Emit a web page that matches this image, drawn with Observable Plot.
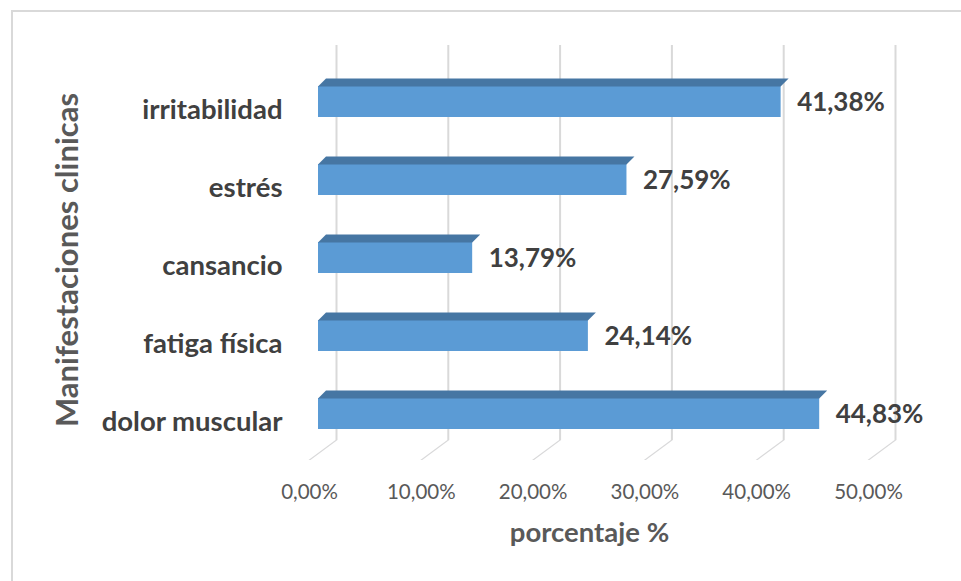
<!DOCTYPE html>
<html>
<head>
<meta charset="utf-8">
<script src="https://cdn.jsdelivr.net/npm/d3@7"></script>
<script src="https://cdn.jsdelivr.net/npm/@observablehq/plot@0.6"></script>
<style>
  html, body { margin: 0; padding: 0; background: #fff; }
  #wrap { position: relative; width: 961px; height: 581px; overflow: hidden; }
  #border { position: absolute; left: 11px; top: 10px; width: 1000px; height: 700px;
            border-left: 2px solid #d9d9d9; border-top: 2px solid #d9d9d9; box-sizing: border-box; }
  #chart { position: absolute; left: 0; top: 0; }
  #chart svg { display: block; }
</style>
</head>
<body>
<div id="wrap"><div id="border"></div><div id="chart"></div></div>
<script>
// ---- data ----
const categories = ["irritabilidad", "estrés", "cansancio", "fatiga física", "dolor muscular"];
const values = [41.38, 27.59, 13.79, 24.14, 44.83];
const valueLabels = ["41,38%", "27,59%", "13,79%", "24,14%", "44,83%"];
const ticks = [0, 10, 20, 30, 40, 50];
const tickLabels = ["0,00%", "10,00%", "20,00%", "30,00%", "40,00%", "50,00%"];
const xTitle = ["porcentaje %"];
const yTitle = ["Manifestaciones clinicas"];

// ---- colours ----
const FRONT = "#5b9bd5", TOP = "#4676a3", SIDE = "#3a6794";
const GRID = "#d9d9d9", FLOOR = "#d9d9da";

const chart = Plot.plot({
  width: 961,
  height: 581,
  marginLeft: 318,
  marginRight: 84,
  marginTop: 45,
  marginBottom: 141,
  style: { fontFamily: "Lato, sans-serif", background: "transparent", overflow: "visible" },
  x: { domain: [0, 50], axis: null },
  y: { domain: categories, axis: null, paddingInner: 0.605, paddingOuter: 0.318, align: 0.78 },
  marks: [
    // back-wall gridlines
    Plot.ruleX(ticks, { x: d => d, dx: 18, stroke: GRID, strokeWidth: 2 }),
    // floor segments (skewed below)
    Plot.ruleX(ticks, { x: d => d, dx: 18, insetTop: 395, insetBottom: -20, stroke: FLOOR, strokeWidth: 2 }),
    // bar front faces
    Plot.barX(categories, { y: categories, x: values, fill: FRONT }),
    // bar top faces (skewed below)
    Plot.ruleY(categories, { y: categories, x1: 0, x2: values, dx: 4, dy: -19.5, stroke: TOP, strokeWidth: 8 }),
    // bar side faces (skewed below)
    Plot.ruleX(categories, { y: categories, x: values, dx: 4.5, dy: -4.5, stroke: SIDE, strokeWidth: 9 }),
    // value labels
    Plot.text(categories, { y: categories, x: values, text: valueLabels, dx: 16, dy: 1, textAnchor: "start",
      lineAnchor: "middle", fontSize: 26, fontWeight: "bold", fill: "#404040" }),
    // category labels
    Plot.text(categories, { y: categories, text: d => d, frameAnchor: "left", dx: -36, dy: 7.7, textAnchor: "end",
      lineAnchor: "middle", fontSize: 27.5, fontWeight: "bold", fill: "#404040" }),
    // tick labels
    Plot.text(ticks, { x: d => d, text: tickLabels, frameAnchor: "bottom", dx: -9, dy: 51.7,
      textAnchor: "middle", lineAnchor: "middle", fontSize: 20.5, fill: "#595959" }),
    // x title
    Plot.text(xTitle, { text: d => d, frameAnchor: "bottom", dx: -8.5, dy: 92.9,
      textAnchor: "middle", lineAnchor: "middle", fontSize: 27.5, fontWeight: "bold", fill: "#595959" }),
    // y title
    Plot.text(yTitle, { text: d => d, frameAnchor: "left", rotate: -90, dx: -250, dy: 17,
      textAnchor: "middle", lineAnchor: "middle", fontSize: 31, fontWeight: "bold", fill: "#595959" })
  ]
});

document.getElementById("chart").appendChild(chart);

// 3D faces: skew the rule strokes into parallelograms
function skew(stroke, transform, origin) {
  chart.querySelectorAll('g[stroke="' + stroke + '"] line').forEach(el => {
    el.style.transformBox = "fill-box";
    el.style.transformOrigin = origin;
    el.style.transform = transform;
  });
}
skew(TOP, "skewX(-45deg)", "center");
skew(SIDE, "skewY(-45deg)", "center");
skew(FLOOR, "skewX(-53.5deg)", "top");
</script>
</body>
</html>
